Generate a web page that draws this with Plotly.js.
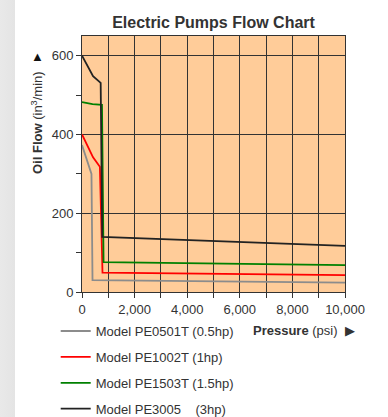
<!DOCTYPE html>
<html>
<head>
<meta charset="utf-8">
<script src="https://cdn.plot.ly/plotly-3.0.1.min.js"></script>
<style>
html,body{margin:0;padding:0;}
body{width:388px;height:417px;background:linear-gradient(to right,#e9e9e9 0px,#e4e4e4 15px,#ffffff 15px,#ffffff 100%);}
#chart{width:388px;height:417px;}
</style>
</head>
<body>
<div id="chart"></div>
<script>
// Data
const seriesNames = ["Model PE0501T (0.5hp)", "Model PE1002T (1hp)", "Model PE1503T (1.5hp)", "Model PE3005\u00a0\u00a0\u00a0\u00a0(3hp)"];
const seriesColors = ["#8c8c8c", "#ff0000", "#008000", "#222222"];

const pe0501X = [0, 360, 400, 10000];
const pe0501Y = [373, 300, 30, 24];

const pe1002X = [0, 420, 680, 780, 10000];
const pe1002Y = [400, 342, 318, 49, 43];

const pe1503X = [0, 400, 760, 820, 10000];
const pe1503Y = [482, 477, 475, 76, 68];

const pe3005X = [0, 200, 420, 710, 770, 10000];
const pe3005Y = [600, 577, 548, 531, 140, 117];

const xTickVals = [0, 2000, 4000, 6000, 8000, 10000];
const xTickText = ["0", "2,000", "4,000", "6,000", "8,000", "10,000"];
const yTickVals = [0, 200, 400, 600];
const yTickText = ["0", "200", "400", "600"];

const xs = [pe0501X, pe1002X, pe1503X, pe3005X];
const ys = [pe0501Y, pe1002Y, pe1503Y, pe3005Y];

const traces = xs.map((x, i) => ({
  x: x, y: ys[i], type: 'scatter', mode: 'lines',
  name: seriesNames[i], legendgroup: 'g' + i,
  line: {color: seriesColors[i], width: 1.8},
  hoverinfo: 'skip'
}));

const font = {family: 'Arial, "Liberation Sans", sans-serif', size: 13, color: '#333333'};

const layout = {
  width: 388, height: 417,
  margin: {l: 82, r: 43, t: 36, b: 125, autoexpand: false},
  paper_bgcolor: 'rgba(0,0,0,0)',
  plot_bgcolor: '#ffcc99',
  font: font,
  showlegend: true,
  title: {text: '<b>Electric Pumps Flow Chart</b>', font: {family: font.family, size: 16, color: '#333333'},
          x: 0.5, xref: 'paper', y: 0.947, yref: 'container', yanchor: 'middle'},
  xaxis: {
    range: [0, 10000], tickmode: 'array', tickvals: xTickVals, ticktext: xTickText, tickangle: 0,
    showgrid: true, gridcolor: '#333333', gridwidth: 1,
    minor: {dtick: 1000, tick0: 0, ticks: 'outside', ticklen: 5, tickcolor: '#333333', showgrid: true, gridcolor: '#333333', gridwidth: 1},
    showline: true, linecolor: '#333333', linewidth: 1, mirror: true,
    ticks: 'outside', ticklen: 5, tickcolor: '#333333',
    zeroline: false, fixedrange: true, tickfont: font, automargin: false
  },
  yaxis: {
    range: [0, 650], tickmode: 'array', tickvals: yTickVals, ticktext: yTickText,
    showgrid: true, gridcolor: '#333333', gridwidth: 1,
    showline: true, linecolor: '#333333', linewidth: 1, mirror: true,
    ticks: 'outside', ticklen: 5, tickcolor: '#333333',
    minor: {dtick: 100, tick0: 0, ticks: 'outside', ticklen: 5, tickcolor: '#333333', showgrid: false},
    zeroline: false, fixedrange: true, tickfont: font, automargin: false
  },
  legend: {
    orientation: 'v', x: -0.1, xanchor: 'left', y: -0.094, yanchor: 'top',
    font: font, bgcolor: 'rgba(0,0,0,0)', traceorder: 'grouped', tracegroupgap: 6,
    itemclick: false, itemdoubleclick: false
  },
  annotations: [
    {text: '<b>Pressure</b> (psi)  \u25B6', xref: 'paper', yref: 'paper', x: 1.047, y: -0.152,
     xanchor: 'right', yanchor: 'middle', showarrow: false, font: font},
    {text: '<b>Oil Flow</b> (in<sup>3</sup>/min)', xref: 'paper', yref: 'paper', x: (37-82)/263, y: (292-123)/256,
     xanchor: 'center', yanchor: 'middle', textangle: -90, showarrow: false, font: font},
    {text: '\u25B2', xref: 'paper', yref: 'paper', x: (37-82)/263, y: (292-56)/256,
     xanchor: 'center', yanchor: 'middle', showarrow: false, font: {family: font.family, size: 13, color: '#111111'}}
  ]
};

Plotly.newPlot('chart', traces, layout, {staticPlot: true, displayModeBar: false});
</script>
</body>
</html>
